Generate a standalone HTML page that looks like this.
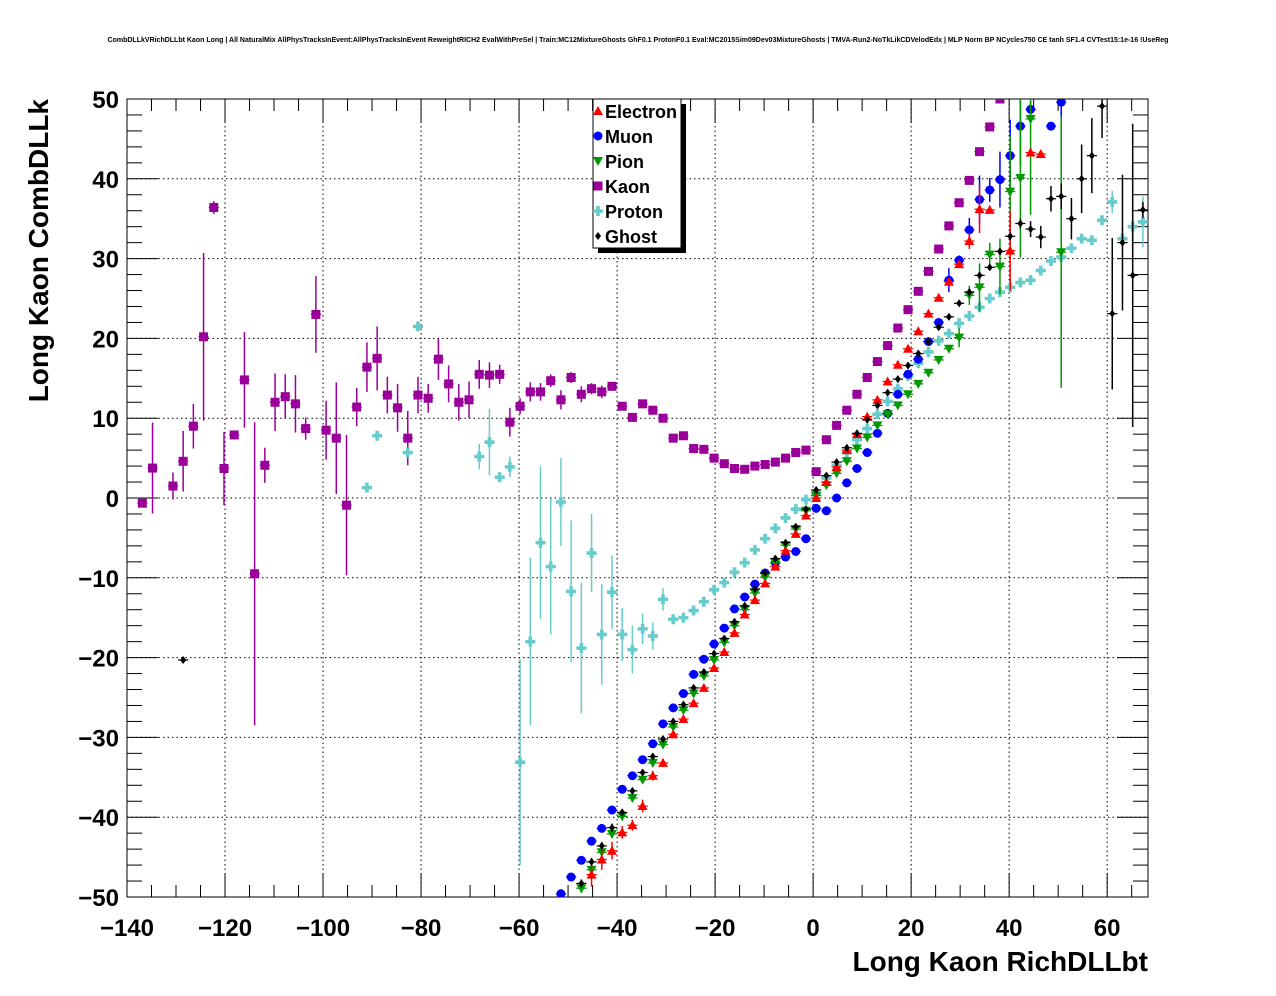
<!DOCTYPE html>
<html><head><meta charset="utf-8"><style>
html,body{margin:0;padding:0;background:#fff;}
svg{display:block;font-family:"Liberation Sans",sans-serif;}
</style></head><body>
<svg id="chart" width="1276" height="996" viewBox="0 0 1276 996">
<defs><clipPath id="pc"><rect x="127" y="99" width="1021" height="798"/></clipPath></defs>
<text x="638" y="42" text-anchor="middle" font-size="7.0" font-weight="bold">CombDLLkVRichDLLbt Kaon Long | All NaturalMix AllPhysTracksInEvent:AllPhysTracksInEvent ReweightRICH2 EvalWithPreSel | Train:MC12MixtureGhosts GhF0.1 ProtonF0.1 Eval:MC2015Sim09Dev03MixtureGhosts | TMVA-Run2-NoTkLikCDVelodEdx | MLP Norm BP NCycles750 CE tanh SF1.4 CVTest15:1e-16 !UseReg</text>
<rect x="127" y="99" width="1021" height="798" fill="none" stroke="#000" stroke-width="1"/>
<g id="grid"></g>
<g id="axes"></g>
<g id="marks" clip-path="url(#pc)"></g>
<text x="48" y="99" transform="rotate(-90 48 99)" text-anchor="end" font-size="28" font-weight="bold">Long Kaon CombDLLk</text>
<text x="1148" y="971" text-anchor="end" font-size="28" font-weight="bold">Long Kaon RichDLLbt</text>
<g id="legend">
<rect x="598" y="104" width="88" height="149" fill="#000"/>
<rect x="593" y="99" width="88" height="149" fill="#fff" stroke="#000" stroke-width="1"/>
</g>
</svg>
<script>
const seriesNames=["Electron","Muon","Pion","Kaon","Proton","Ghost"];
const seriesColors=["#ff0000","#0000ff","#009900","#990099","#66cccc","#000000"];
const xTicks=[-140,-120,-100,-80,-60,-40,-20,0,20,40,60];
const yTicks=[-50,-40,-30,-20,-10,0,10,20,30,40,50];
const binStart=-140, binWidth=2.08333;
const electronStart=45;
const electronVals=[-47.2,-45.3,-44.2,-41.9,-41.0,-38.6,-34.8,-33.2,-29.6,-27.7,-25.7,-23.8,-21.3,-19.3,-16.9,-14.6,-12.8,-10.7,-8.6,-6.6,-4.5,-2.2,0.0,2.0,3.9,6.0,8.0,10.2,12.3,14.6,16.7,18.7,20.9,23.1,25.1,27.1,29.3,32.2,36.2,36.1,null,31.0,null,43.3,43.1];
const electronErr=[1.5,1.3,1.1,0.8,0.7,0.8,0.6,0.5,0.5,0.5,0.4,0.4,0.4,0.4,0.4,0.4,0.4,0.4,0.4,0.4,0.4,0.4,0.4,0.4,0.4,0.4,0.4,0.4,0.4,0.4,0.4,0.4,0.4,0.4,0.4,0.4,0.5,1.0,3.0,0.4,null,5.0,null,0.5,0.5];
const muonStart=42;
const muonVals=[-49.6,-47.5,-45.4,-43.0,-41.4,-39.1,-36.5,-34.8,-32.8,-30.8,-28.3,-26.3,-24.5,-22.1,-20.2,-18.3,-16.3,-13.9,-12.4,-10.8,-9.4,-8.1,-7.4,-6.7,-5.1,-1.3,-1.6,0.0,1.9,3.7,5.7,8.1,10.6,13.0,15.5,17.4,19.6,22.0,27.3,29.8,33.6,37.4,38.6,39.9,42.9,46.6,48.7,null,46.6,49.6];
const muonErr=[0.3,0.3,0.3,0.3,0.3,0.3,0.3,0.3,0.3,0.3,0.3,0.3,0.3,0.3,0.3,0.3,0.3,0.3,0.3,0.3,0.3,0.3,0.3,0.3,0.3,0.3,0.3,0.3,0.3,0.3,0.3,0.3,0.3,0.3,0.3,0.3,0.3,0.5,1.5,0.6,1.5,3.0,1.5,3.5,4.5,5.0,1.0,null,0.5,2.0];
const pionStart=44;
const pionVals=[-48.9,-46.6,-44.4,-42.1,-39.9,-37.6,-35.3,-33.2,-30.9,-28.7,-26.6,-24.5,-22.3,-20.3,-18.1,-16.0,-14.0,-11.9,-9.9,-8.1,-5.9,-3.9,-1.6,0.3,1.6,3.1,4.6,6.2,7.6,9.1,10.5,11.6,13.0,14.3,15.7,17.3,18.7,20.1,25.4,26.4,30.5,29.0,38.4,40.1,47.5,null,null,30.8];
const pionErr=[0.6,0.6,0.5,0.5,0.5,0.4,0.4,0.4,0.4,0.4,0.4,0.4,0.4,0.4,0.4,0.4,0.4,0.4,0.4,0.4,0.4,0.4,0.4,0.4,0.4,0.4,0.4,0.4,0.4,0.4,0.4,0.4,0.4,0.4,0.4,0.4,0.4,1.2,1.2,3.0,1.5,3.5,7.0,10.0,12.0,null,null,17.0];
const kaonStart=1;
const kaonVals=[-0.65,3.75,null,1.5,4.6,9.0,20.2,36.4,3.7,7.9,14.8,-9.5,4.1,12.0,12.7,11.8,8.7,23.0,8.5,7.5,-0.9,11.4,16.4,17.5,12.9,11.3,7.5,12.9,12.5,17.4,14.3,12.0,12.3,15.5,15.4,15.5,9.5,11.5,13.3,13.3,14.7,12.3,15.1,13.0,13.7,13.3,14.0,11.5,10.1,11.8,11.0,10.0,7.5,7.8,6.2,6.1,5.0,4.3,3.7,3.6,4.0,4.2,4.5,5.0,5.7,6.0,3.3,7.3,9.1,11.0,13.0,15.1,17.1,19.1,21.3,23.6,25.9,28.4,31.2,34.1,37.0,39.8,43.4,46.5,50.0];
const kaonErr=[0.3,5.7,null,1.7,3.8,2.8,10.5,0.8,4.6,0.3,6.0,19.0,2.2,3.6,2.8,3.6,1.4,4.8,3.7,7.0,8.8,2.4,3.1,4.0,2.3,3.0,3.4,2.3,1.8,2.6,2.3,2.3,2.3,1.8,1.6,1.2,1.8,1.0,1.2,1.1,0.8,1.2,0.7,1.0,0.7,0.8,0.5,0.5,0.5,0.4,0.4,0.3,0.3,0.3,0.3,0.3,0.3,0.3,0.3,0.3,0.3,0.3,0.3,0.3,0.3,0.3,0.3,0.3,0.3,0.3,0.3,0.3,0.3,0.3,0.3,0.3,0.3,0.3,0.3,0.3,0.3,0.3,0.3,0.3,0.3];
const protonStart=23;
const protonVals=[1.3,7.8,null,null,5.7,21.5,null,null,null,null,null,5.2,7.0,2.6,3.9,-33.1,-18.0,-5.6,-8.6,-0.5,-11.7,-18.8,-6.9,-17.1,-11.8,-17.1,-19.0,-16.4,-17.3,-12.7,-15.2,-15.0,-14.1,-13.0,-11.5,-10.6,-9.3,-8.1,-6.5,-5.1,-3.8,-2.5,-1.4,-0.2,0.6,2.5,4.1,5.7,7.3,8.7,10.5,12.1,13.7,15.3,16.9,18.3,19.7,20.6,21.9,22.8,23.9,25.0,25.8,26.4,27.0,27.3,28.5,29.7,30.2,31.3,32.5,32.3,34.8,37.1,32.5,34.0,34.6];
const protonErr=[0.5,0.5,null,null,0.5,0.5,null,null,null,null,null,1.6,4.2,0.5,1.3,12.9,10.5,9.6,8.5,5.5,8.9,8.2,4.9,6.3,4.6,3.3,3.0,1.9,1.7,1.4,0.6,0.6,0.5,0.4,0.4,0.4,0.4,0.4,0.4,0.4,0.4,0.4,0.4,0.4,0.4,0.4,0.4,0.4,0.4,0.4,0.4,0.4,0.4,0.4,0.4,0.4,0.4,0.4,0.4,0.4,0.4,0.4,0.4,0.4,0.4,0.4,0.4,0.4,0.4,0.4,0.5,0.5,0.5,1.4,1.4,2.4,3.2];
const ghostStart=44;
const ghostVals=[-48.3,-45.6,-43.6,-41.3,-39.4,-36.7,-34.4,-32.4,-30.2,-28.0,-25.9,-23.8,-21.8,-19.5,-17.6,-15.5,-13.5,-11.4,-9.4,-7.6,-5.6,-3.6,-1.4,1.0,2.8,4.5,6.3,8.1,9.8,11.6,13.2,14.9,16.6,18.1,19.6,21.4,22.7,24.4,25.8,27.9,28.9,30.9,32.8,34.4,33.7,32.7,37.5,37.8,35.0,40.0,42.9,49.1,23.1,32.0,27.9,36.1];
const ghostErr=[0.5,0.5,0.5,0.5,0.4,0.4,0.4,0.4,0.4,0.4,0.4,0.4,0.4,0.4,0.4,0.4,0.4,0.4,0.4,0.4,0.4,0.4,0.4,0.4,0.4,0.4,0.4,0.4,0.4,0.4,0.4,0.4,0.4,0.4,0.4,0.4,0.4,0.4,0.4,0.4,0.4,0.4,0.5,0.6,1.0,1.4,1.6,1.6,2.6,4.3,4.7,4.0,9.5,8.5,19.0,1.0];
const ghostOutlierBin=[5];
const ghostOutlierVal=[-20.3];

const NS="http://www.w3.org/2000/svg";
const X0=127,X1=1148,Y0=99,Y1=897,XMIN=-140,XMAX=68.333,YMIN=-50,YMAX=50;
function xs(v){return X0+(v-XMIN)/(XMAX-XMIN)*(X1-X0);}
function ys(v){return Y1-(v-YMIN)/(YMAX-YMIN)*(Y1-Y0);}
function binCenter(i){return binStart+binWidth*(i+0.5);}
function mk(tag,attrs,parent){const e=document.createElementNS(NS,tag);for(const k in attrs)e.setAttribute(k,attrs[k]);parent.appendChild(e);return e;}

const grid=document.getElementById('grid'),axes=document.getElementById('axes'),marks=document.getElementById('marks');
xTicks.forEach(t=>{
  const x=xs(t);
  if(t>XMIN){const l=mk('line',{x1:x,x2:x,y1:Y0,y2:Y1,stroke:'#000','stroke-width':1,'stroke-dasharray':'1.5,3'},grid);
  
  }
  const lb=mk('text',{x:x,y:936,'text-anchor':'middle','font-size':24,'font-weight':'bold'},axes);
  lb.textContent=(t<0?'\u2212'+(-t):''+t);
  
  
});
yTicks.forEach(t=>{
  const y=ys(t);
  if(t>YMIN&&t<YMAX){const l=mk('line',{x1:X0,x2:X1,y1:y,y2:y,stroke:'#000','stroke-width':1,'stroke-dasharray':'1.5,3'},grid);
  
  }
  const lb=mk('text',{x:119,y:y+9,'text-anchor':'end','font-size':24,'font-weight':'bold'},axes);
  lb.textContent=(t<0?'\u2212'+(-t):''+t);
  
  
});
for(let v=-140;v<=68;v+=5){const x=xs(v);const L=(v%20===0)?24:12;
  mk('line',{x1:x,x2:x,y1:Y1,y2:Y1-L,stroke:'#000','stroke-width':1},axes);
  mk('line',{x1:x,x2:x,y1:Y0,y2:Y0+L,stroke:'#000','stroke-width':1},axes);}
for(let v=-50;v<=50;v+=2){const y=ys(v);const L=(v%10===0)?31:15;
  mk('line',{x1:X0,x2:X0+L,y1:y,y2:y,stroke:'#000','stroke-width':1},axes);
  mk('line',{x1:X1,x2:X1-L,y1:y,y2:y,stroke:'#000','stroke-width':1},axes);}

function marker(kind,cx,cy,col,parent){
  let e;
  if(kind===0){e=mk('polygon',{points:`${cx},${cy-5} ${cx-5},${cy+4} ${cx+5},${cy+4}`,fill:col},parent);}
  else if(kind===1){e=mk('circle',{cx:cx,cy:cy,r:4.5,fill:col},parent);}
  else if(kind===2){e=mk('polygon',{points:`${cx},${cy+5} ${cx-5},${cy-4} ${cx+5},${cy-4}`,fill:col},parent);}
  else if(kind===3){e=mk('rect',{x:cx-4.5,y:cy-4.5,width:9,height:9,fill:col},parent);}
  else if(kind===4){e=mk('path',{d:`M${cx-1.8},${cy-5}h3.6v3.2h3.2v3.6h-3.2v3.2h-3.6v-3.2h-3.2v-3.6h3.2z`,fill:col},parent);}
  else {e=mk('polygon',{points:`${cx},${cy-4} ${cx+3},${cy} ${cx},${cy+4} ${cx-3},${cy}`,fill:col},parent);}
  return e;
}
function drawSeries(k,start,vals,errs,name){
  const g=mk('g',{},marks);
  
  
  const col=seriesColors[k];
  vals.forEach((v,j)=>{
    if(v===null||v===undefined)return;
    const b=start+j,xc=binCenter(b),cx=xs(xc),cy=ys(v);
    const er=errs[j]||0.3;
    mk('line',{x1:xs(xc-binWidth/2),x2:xs(xc+binWidth/2),y1:cy,y2:cy,stroke:col,'stroke-width':1.2},g);
    mk('line',{x1:cx,x2:cx,y1:ys(v-er),y2:ys(v+er),stroke:col,'stroke-width':1.5},g);
    const m=marker(k,cx,cy,col,g);
    
    
  });
}
drawSeries(3,kaonStart,kaonVals,kaonErr,'kaon');
drawSeries(4,protonStart,protonVals,protonErr,'proton');
drawSeries(1,muonStart,muonVals,muonErr,'muon');
drawSeries(2,pionStart,pionVals,pionErr,'pion');
drawSeries(0,electronStart,electronVals,electronErr,'electron');
drawSeries(5,ghostStart,ghostVals,ghostErr,'ghost');
drawSeries(5,ghostOutlierBin[0],ghostOutlierVal,[0.3],'ghost-outlier');

const leg=document.getElementById('legend');
seriesNames.forEach((n,i)=>{
  const y=111+i*25;
  const m=marker(i,598,y,seriesColors[i],leg);
  
  
  const t=mk('text',{x:605,y:y+7,'font-size':18,'font-weight':'bold'},leg);
  t.textContent=n;
  
  
});
</script>
</body></html>
